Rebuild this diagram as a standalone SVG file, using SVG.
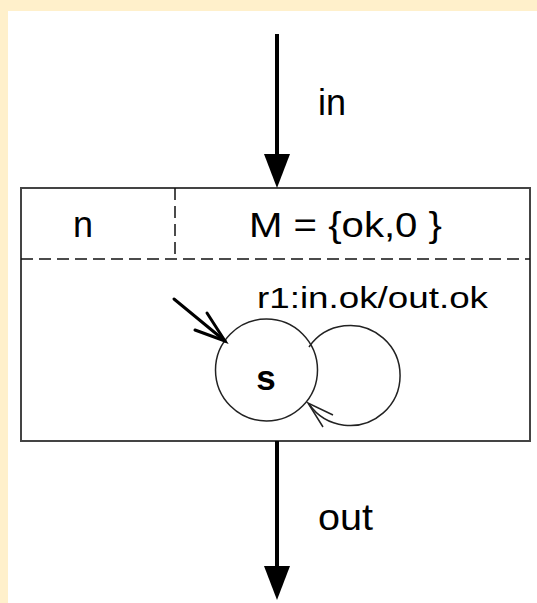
<svg xmlns="http://www.w3.org/2000/svg" width="537" height="603" viewBox="0 0 537 603">
  <style>
    .t { font-family: "Liberation Sans", Arial, sans-serif; fill: #000; }
    .dash { stroke: #111; stroke-width: 1.5; stroke-dasharray: 12 6; fill: none; }
    .thin { stroke: #222; stroke-width: 1.5; fill: none; }
  </style>
  <defs>
    <marker id="head" markerUnits="userSpaceOnUse" markerWidth="34" markerHeight="26" refX="34" refY="13" orient="auto" viewBox="0 0 34 26">
      <path d="M0 0 L34 13 L0 26 Z" fill="#000"/>
    </marker>
  </defs>
  <rect x="0" y="0" width="537" height="603" fill="#FFF0CB"/>
  <rect x="8" y="11" width="529" height="592" fill="#FFFFFF"/>

  <g id="machine">
    <rect x="21" y="188" width="509" height="253" fill="#FFFFFF" stroke="#444" stroke-width="2"/>
    <line class="dash" x1="175" y1="188" x2="175" y2="259"/>
    <line class="dash" x1="21" y1="259" x2="530" y2="259"/>
    <text class="t" x="83" y="237" font-size="36" text-anchor="middle">n</text>
    <text class="t" x="249" y="237" font-size="35" textLength="193" lengthAdjust="spacingAndGlyphs">M = {ok,0 }</text>
  </g>

  <g id="state-s">
    <circle cx="266.5" cy="370" r="51" fill="none" stroke="#222" stroke-width="1.5"/>
    <text class="t" x="266" y="390" font-size="35" font-weight="bold" text-anchor="middle">s</text>
  </g>

  <g id="connectors">
    <line x1="277" y1="34" x2="277" y2="170" stroke="#000" stroke-width="4"/>
    <line x1="277" y1="34" x2="277" y2="188" stroke="none" marker-end="url(#head)"/>
    <line x1="277" y1="441" x2="277" y2="580" stroke="#000" stroke-width="4"/>
    <line x1="277" y1="441" x2="277" y2="600" stroke="none" marker-end="url(#head)"/>
    <g stroke="#000" stroke-width="3" fill="none" stroke-linecap="round">
      <line x1="174" y1="299" x2="225" y2="341"/>
      <polyline points="195,330 225,341 207,313"/>
    </g>
    <path class="thin" d="M309 347 A50 50 0 1 1 309 404"/>
    <polyline class="thin" points="333,415 308,403 323,427"/>
  </g>

  <text class="t" x="318" y="115" font-size="36">in</text>
  <text class="t" x="318" y="530" font-size="36" textLength="55" lengthAdjust="spacingAndGlyphs">out</text>
  <text class="t" x="257" y="308" font-size="30" textLength="231" lengthAdjust="spacingAndGlyphs">r1:in.ok/out.ok</text>
</svg>
